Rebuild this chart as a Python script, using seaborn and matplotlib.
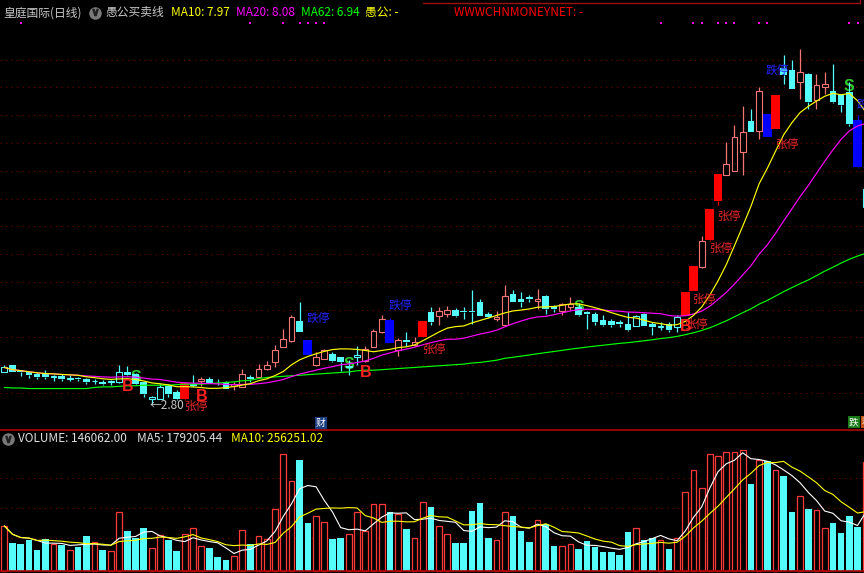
import numpy as np
import pandas as pd
import matplotlib
matplotlib.use("Agg")
import matplotlib.pyplot as plt
import seaborn as sns

# daily bars (price units, left to right)
opens = [3.38, 3.50, 3.40, 3.37, 3.34, 3.35, 3.28, 3.31, 3.26, 3.27,
         3.26, 3.21, 3.20, 3.20, 3.19, 3.38, 3.35, 3.19, 2.89, 2.90,
         3.13, 3.01, 2.89, 3.15, 3.22, 3.25, 3.20, 3.20, 3.13, 3.11,
         3.29, 3.28, 3.44, 3.55, 3.83, 3.94, 4.30, 3.95, 3.50, 3.62,
         3.70, 3.64, 3.47, 3.64, 3.58, 3.83, 4.10, 4.31, 3.77, 3.95,
         3.86, 4.01, 4.46, 4.39, 4.43, 4.49, 4.48, 4.48, 4.63, 4.43,
         4.34, 4.22, 4.78, 4.69, 4.72, 4.66, 4.75, 4.57, 4.48, 4.54,
         4.55, 4.46, 4.42, 4.31, 4.30, 4.27, 4.25, 4.21, 4.42, 4.25,
         4.18, 4.25, 4.18, 4.39, 4.84, 5.27, 5.75, 6.46, 6.93, 7.00,
         7.34, 7.90, 7.72, 8.02, 7.75, 8.85, 8.81, 8.60, 8.74, 8.27,
         8.51, 8.44, 8.36, 8.41, 7.91, 6.35]
highs = [3.50, 3.51, 3.41, 3.38, 3.38, 3.41, 3.32, 3.35, 3.32, 3.29,
         3.27, 3.25, 3.23, 3.23, 3.50, 3.49, 3.36, 3.20, 2.95, 3.16,
         3.17, 3.05, 3.18, 3.32, 3.29, 3.29, 3.25, 3.22, 3.20, 3.43,
         3.32, 3.53, 3.58, 3.86, 4.15, 4.40, 4.64, 3.95, 3.74, 3.80,
         3.74, 3.65, 3.59, 3.85, 3.85, 4.16, 4.40, 4.35, 3.99, 4.10,
         4.00, 4.30, 4.54, 4.55, 4.57, 4.53, 4.55, 4.85, 4.69, 4.46,
         4.48, 4.94, 4.85, 4.81, 4.76, 4.88, 4.76, 4.58, 4.62, 4.72,
         4.62, 4.47, 4.46, 4.40, 4.33, 4.31, 4.46, 4.40, 4.44, 4.28,
         4.28, 4.28, 4.40, 4.81, 5.29, 5.83, 6.31, 6.94, 7.52, 7.82,
         8.17, 8.12, 8.50, 8.02, 8.36, 9.08, 8.99, 9.19, 8.76, 8.75,
         8.77, 8.93, 8.38, 8.60, 8.00, 6.74]
lows = [3.37, 3.37, 3.31, 3.27, 3.25, 3.25, 3.22, 3.22, 3.22, 3.22,
        3.17, 3.17, 3.15, 3.14, 3.18, 3.31, 3.14, 2.93, 2.80, 2.89,
        2.93, 2.87, 2.88, 3.11, 3.13, 3.16, 3.14, 3.07, 3.05, 3.10,
        3.20, 3.27, 3.41, 3.46, 3.82, 3.91, 4.09, 3.69, 3.49, 3.61,
        3.56, 3.40, 3.32, 3.50, 3.56, 3.82, 4.08, 3.90, 3.67, 3.85,
        3.85, 4.01, 4.22, 4.22, 4.37, 4.37, 4.33, 4.25, 4.38, 4.35,
        4.30, 4.21, 4.63, 4.55, 4.64, 4.52, 4.42, 4.46, 4.40, 4.49,
        4.39, 4.15, 4.22, 4.21, 4.19, 4.19, 4.12, 4.20, 4.20, 4.04,
        4.13, 4.10, 4.10, 4.39, 4.84, 5.25, 5.74, 6.38, 6.92, 6.99,
        6.92, 7.69, 7.58, 7.60, 7.75, 8.57, 8.47, 8.30, 8.12, 8.12,
        8.38, 8.22, 8.05, 7.81, 7.05, 6.33]
closes = [3.46, 3.38, 3.37, 3.32, 3.29, 3.28, 3.31, 3.26, 3.27, 3.25,
          3.19, 3.22, 3.17, 3.21, 3.37, 3.32, 3.17, 2.99, 2.92, 3.10,
          2.99, 2.89, 3.18, 3.17, 3.25, 3.17, 3.19, 3.08, 3.16, 3.34,
          3.25, 3.43, 3.50, 3.77, 3.98, 4.36, 4.10, 3.69, 3.64, 3.77,
          3.58, 3.55, 3.49, 3.68, 3.80, 4.12, 4.33, 3.90, 3.95, 3.92,
          3.91, 4.30, 4.28, 4.48, 4.49, 4.39, 4.45, 4.45, 4.39, 4.36,
          4.37, 4.75, 4.64, 4.64, 4.69, 4.70, 4.52, 4.51, 4.61, 4.60,
          4.40, 4.42, 4.27, 4.22, 4.22, 4.24, 4.13, 4.39, 4.21, 4.19,
          4.20, 4.13, 4.37, 4.81, 5.29, 5.74, 6.31, 6.94, 7.12, 7.60,
          7.69, 7.70, 8.44, 7.60, 8.36, 8.72, 8.48, 8.77, 8.24, 8.54,
          8.56, 8.23, 8.18, 7.84, 7.06, 6.68]
volumes = [112000, 70000, 67000, 77000, 52000, 80000, 68000, 64000, 52000, 59000,
           87000, 71000, 52000, 50000, 146000, 99000, 81000, 107000, 58000, 89000,
           77000, 49000, 91000, 106000, 61000, 57000, 34000, 27000, 36000, 103000,
           67000, 87000, 79000, 154000, 291000, 224000, 277000, 119000, 138000, 121000,
           79000, 82000, 92000, 146000, 99000, 166000, 166000, 146000, 141000, 104000,
           81000, 172000, 159000, 112000, 93000, 69000, 69000, 149000, 169000, 82000,
           76000, 148000, 137000, 99000, 72000, 126000, 116000, 62000, 61000, 67000,
           54000, 74000, 60000, 47000, 47000, 39000, 97000, 106000, 77000, 83000,
           78000, 54000, 83000, 198000, 253000, 208000, 291000, 288000, 296000, 298000,
           301000, 217000, 278000, 274000, 253000, 237000, 147000, 188000, 154000, 151000,
           106000, 119000, 94000, 137000, 109000, 271000]
# MA62 before a full 62-day window exists
ma62_head = [3.10, 3.09, 3.09, 3.08, 3.08, 3.08, 3.08, 3.08, 3.08, 3.08,
             3.08, 3.10, 3.11, 3.11, 3.12, 3.13, 3.13, 3.14, 3.14, 3.14,
             3.14, 3.15, 3.16, 3.16, 3.16, 3.17, 3.18, 3.19, 3.20, 3.22,
             3.23, 3.26, 3.28, 3.29, 3.30, 3.31, 3.32, 3.33, 3.34, 3.35,
             3.36, 3.37, 3.38, 3.40, 3.41, 3.41, 3.42, 3.43, 3.44, 3.45,
             3.46, 3.47, 3.48, 3.49, 3.50, 3.51, 3.52, 3.54, 3.55, 3.57, 3.59]

limit_up_days = [22, 51, 83, 84, 86, 87, 94]
limit_down_days = [37, 47, 93, 104]
buy_days = [15, 24, 44, 83]
sell_days = [16, 42, 70, 103]
dot_days = [2, 30, 34, 36, 37, 38, 39, 80, 84, 85, 87, 88, 89, 92, 93, 103, 104]

W, H = 864, 573
TOP_H = 430  # price panel height in px

sns.set_style("dark")
plt.rcParams['font.family'] = ['Noto Sans CJK SC', 'DejaVu Sans']

n = len(closes)
df = pd.DataFrame({'day': np.arange(n), 'open': opens, 'high': highs,
                   'low': lows, 'close': closes, 'volume': volumes})
df['ma10'] = df['close'].rolling(10, min_periods=1).mean()
df['ma20'] = df['close'].rolling(20, min_periods=1).mean()
ma62 = df['close'].rolling(62).mean()
ma62.iloc[:len(ma62_head)] = ma62_head
df['ma62'] = ma62
df['vma5'] = df['volume'].rolling(5, min_periods=1).mean()
df['vma10'] = df['volume'].rolling(10, min_periods=1).mean()

# buy / sell regime from the B and S signals
regime = []
state = 'sell'
for i in range(n):
    if i in buy_days:
        state = 'buy'
    if i in sell_days:
        state = 'sell'
    regime.append(state)

UP = '#f27676'
CYAN = '#54fcfc'
VRED = '#ff3838'
GRID = '#7a0000'
XLIM = (-0.524, 104.79)

fig = plt.figure(figsize=(W / 100, H / 100), dpi=100, facecolor='black')
ax = fig.add_axes([0, (H - TOP_H) / H, 1, TOP_H / H])
axv = fig.add_axes([0, 0, 1, (H - TOP_H) / H])

# dotted grid
for p in np.arange(3.0, 9.01, 0.5):
    ax.axhline(p, color=GRID, lw=0.8, ls=(0, (1, 4)), zorder=0)
for f in (0.245, 0.4545, 0.664):
    axv.plot([0, 1], [f, f], transform=axv.transAxes, color=GRID, lw=0.8,
             ls=(0, (1, 4)), zorder=0)

# candles
for i, r in df.iterrows():
    o, c, h, l = r['open'], r['close'], r['high'], r['low']
    b_lo, b_hi = min(o, c), max(o, c)
    if i in limit_up_days:
        col, fill, w = '#ff0000', True, 1.08
    elif i in limit_down_days:
        col, fill, w = '#0000ff', True, 1.08
    elif c >= o:
        col, fill, w = (UP if regime[i] == 'buy' else CYAN), False, 0.70
    else:
        col, fill, w = CYAN, True, 0.80
    ax.vlines(i, b_hi, h, color=col, lw=0.9, zorder=2)
    ax.vlines(i, l, b_lo, color=col, lw=0.9, zorder=2)
    hgt = max(b_hi - b_lo, 0.012)
    if fill:
        ax.bar(i, hgt, bottom=b_lo, width=w, color=col, linewidth=0, zorder=3)
    else:
        ax.bar(i, hgt, bottom=b_lo, width=w, facecolor='black', edgecolor=col,
               linewidth=0.8, zorder=3)

# moving averages
sns.lineplot(data=df, x='day', y='ma62', ax=ax, color='#00ff00', linewidth=0.85, zorder=4)
sns.lineplot(data=df, x='day', y='ma20', ax=ax, color='#ff00ff', linewidth=0.85, zorder=4)
sns.lineplot(data=df, x='day', y='ma10', ax=ax, color='#ffff00', linewidth=0.85, zorder=4)

# signal texts
for d in limit_up_days:
    ax.annotate('张停', (d, closes[d - 1]), xytext=(0, -0.5), textcoords='offset points',
                ha='left', va='top', color='#e82828', fontsize=8.5, zorder=6)
for d in limit_down_days:
    ax.annotate('跌停', (d, closes[d - 1] * 1.03), xytext=(-1, 0), textcoords='offset points',
                ha='left', va='bottom', color='#2424ff', fontsize=8.5, zorder=6)
for d in buy_days:
    ax.annotate('B', (d, lows[d]), xytext=(0, -2), textcoords='offset points',
                ha='center', va='top', color='#ff2020', fontsize=11.5,
                family='Liberation Sans', fontweight='bold', zorder=6)
for d in sell_days:
    ax.annotate('S', (d, highs[d]), xytext=(0, -3), textcoords='offset points',
                ha='center', va='center', color='#30c830', fontsize=11.5,
                family='Liberation Sans', fontweight='bold', zorder=1)

lo_day = int(np.argmin(lows))
ax.annotate('\u2190' + f'{lows[lo_day]:.2f}', (lo_day, lows[lo_day]), xytext=(-1.5, -1),
            textcoords='offset points', ha='left', va='center', color='#c8c8c8',
            fontsize=8.5, zorder=6)

ax.scatter(dot_days, [0.947] * len(dot_days), transform=ax.get_xaxis_transform(),
           marker='s', s=2.2, color='#ff00ff', linewidths=0, zorder=5)

# volume panel
up = df[df['close'] >= df['open']]
dn = df[df['close'] < df['open']]
axv.bar(dn['day'], dn['volume'], width=0.80, color=CYAN, linewidth=0, zorder=2)
axv.bar(up['day'], up['volume'], width=0.70, facecolor='black', edgecolor=VRED,
        linewidth=0.9, zorder=2)
sns.lineplot(data=df, x='day', y='vma5', ax=axv, color='white', linewidth=0.8, zorder=4)
sns.lineplot(data=df, x='day', y='vma10', ax=axv, color='#ffff00', linewidth=0.8, zorder=4)

for a in (ax, axv):
    a.set_facecolor('black')
    a.set_xlim(*XLIM)
    a.set_axis_off()
ax.set_ylim(2.334, 10.074)
axv.set_ylim(-5750, 351750)


def fx(px):
    return px / W


def fy(py):
    return 1 - py / H


# panel borders
fig.add_artist(plt.Line2D([0, 1], [fy(430), fy(430)], color='#b00000', lw=1.2))
fig.add_artist(plt.Line2D([0, 1], [fy(570.7), fy(570.7)], color='#b00000', lw=1.2))
fig.add_artist(plt.Line2D([fx(423), fx(860)], [fy(3.3), fy(3.3)], color='#a01010', lw=1.0))
fig.add_artist(plt.Line2D([fx(860), fx(860)], [fy(0), fy(3.3)], color='#a01010', lw=1.0))

# header texts
hy = fy(12.7)
head = [(3, '皇庭国际(日线)', '#c8c8c8'), (105, '愚公买卖线', '#c8c8c8'),
        (171, 'MA10: 7.97', '#ffff00'), (236, 'MA20: 8.08', '#ff00ff'),
        (301, 'MA62: 6.94', '#00ff00'), (365, '愚公: -', '#ffff00'),
        (454, 'WWWCHNMONEYNET: -', '#ff0000')]
for x, s, col in head:
    fig.text(fx(x), hy, s, color=col, fontsize=8.5, ha='left', va='center')
vy = fy(439)
vhead = [(18, 'VOLUME: 146062.00', '#e0e0e0'), (137, 'MA5: 179205.44', '#e0e0e0'),
         (231, 'MA10: 256251.02', '#ffff00')]
for x, s, col in vhead:
    fig.text(fx(x), vy, s, color=col, fontsize=8.5, ha='left', va='center')

for cx, cy in ((94.7, 12.7), (8.3, 439.2)):
    fig.add_artist(plt.Line2D([fx(cx)], [fy(cy)], marker='o', markersize=8,
                              color='#7a7a7a', linestyle='none'))
    fig.add_artist(plt.Line2D([fx(cx)], [fy(cy) + 0.001], marker=r'$\vee$', markersize=4.5,
                              color='#202020', linestyle='none'))

# event tags at the bottom of the price panel
fig.text(fx(321), fy(422.8), '财', color='white', fontsize=7, ha='center', va='center',
         bbox=dict(boxstyle='square,pad=0.1', facecolor='#1c3c80', edgecolor='none'))
fig.text(fx(854), fy(422), '跌', color='white', fontsize=7, ha='center', va='center',
         bbox=dict(boxstyle='square,pad=0.1', facecolor='#1a7a1a', edgecolor='none'))
fig.text(fx(862), fy(422), '利', color='white', fontsize=7, ha='left', va='center',
         bbox=dict(boxstyle='square,pad=0.1', facecolor='#c05010', edgecolor='none'))

fig.savefig('out.png', dpi=100, facecolor='black')
